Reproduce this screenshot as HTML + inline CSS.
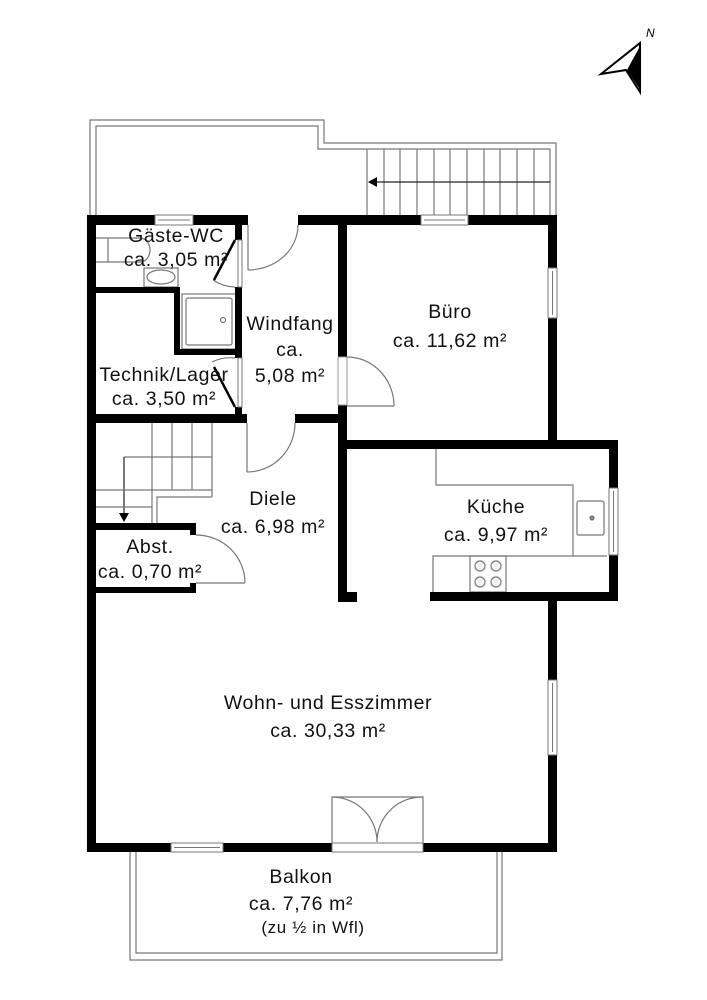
<!DOCTYPE html>
<html><head><meta charset="utf-8"><style>html,body{margin:0;padding:0;background:#fff}svg{display:block}</style></head>
<body>
<svg width="707" height="1000" viewBox="0 0 707 1000" xmlns="http://www.w3.org/2000/svg">
<rect width="707" height="1000" fill="#fff"/>
<g fill="none" stroke="#777" stroke-width="1.2">
<polyline points="90,215 90,120 324,120 324,143 556,143 556,215"/>
<polyline points="96,215 96,126 318,126 318,149 550,149 550,215"/>
<line x1="367" y1="149" x2="367" y2="215"/>
<line x1="384" y1="149" x2="384" y2="215"/><line x1="400" y1="149" x2="400" y2="215"/>
<line x1="417" y1="149" x2="417" y2="215"/><line x1="434" y1="149" x2="434" y2="215"/>
<line x1="450" y1="149" x2="450" y2="215"/><line x1="467" y1="149" x2="467" y2="215"/>
<line x1="484" y1="149" x2="484" y2="215"/><line x1="500" y1="149" x2="500" y2="215"/>
<line x1="517" y1="149" x2="517" y2="215"/><line x1="534" y1="149" x2="534" y2="215"/>
<line x1="372" y1="182" x2="550" y2="182" stroke="#222"/>
<polyline points="130,852 130,960 502,960 502,852"/>
<polyline points="136,852 136,953 497,953 497,852"/>
<line x1="152" y1="423" x2="152" y2="523"/><line x1="172" y1="423" x2="172" y2="490"/>
<line x1="192" y1="423" x2="192" y2="490"/><line x1="212" y1="423" x2="212" y2="497"/>
<line x1="124" y1="457" x2="212" y2="457"/>
<line x1="124" y1="457" x2="124" y2="517" stroke="#222"/>
<line x1="96" y1="490" x2="212" y2="490"/>
<line x1="96" y1="507" x2="152" y2="507"/>
<polyline points="157,523 157,497 212,497"/>
<line x1="248" y1="225" x2="248" y2="270"/><path d="M248,270 A50,45 0 0 0 298,225"/>
<line x1="247" y1="423" x2="247" y2="472"/><path d="M247,472 A48,49 0 0 0 295,423"/>
<line x1="347" y1="406" x2="394" y2="406"/><path d="M347,357 A47,49 0 0 1 394,406"/>
<line x1="196" y1="583" x2="245" y2="583"/><path d="M196,535 A49,48 0 0 1 245,583"/>
<path d="M235,287 A40,40 0 0 1 213,280"/><path d="M235,358 A40,40 0 0 0 212,362"/>
<polyline points="332,843 332,797 423,797 423,843"/>
<path d="M332,797 A45,45 0 0 1 377,842"/><path d="M423,797 A45,45 0 0 0 377,842"/>
<polyline points="96,238 140,238"/><polyline points="96,262 140,262"/>
<line x1="108" y1="238" x2="108" y2="262"/>
<path d="M140,238 A10,12 0 0 1 140,262"/>
<rect x="144" y="268" width="34" height="19"/><ellipse cx="161" cy="277" rx="14" ry="7"/>
<rect x="182" y="294" width="54" height="55"/><rect x="186" y="298" width="46" height="47" rx="2"/>
<circle cx="223" cy="320" r="2.5"/>
<polyline points="436,449 436,485 573,485 573,556 433,556 433,592"/>
<line x1="573" y1="556" x2="607" y2="556"/>
<rect x="470" y="556" width="36" height="36"/>
<circle cx="480" cy="566" r="5"/><circle cx="496" cy="566" r="5"/>
<circle cx="480" cy="582" r="5"/><circle cx="496" cy="582" r="5"/>
<rect x="577" y="501" width="27" height="34" rx="2"/>
<circle cx="592" cy="518" r="2" fill="#888"/>
</g>
<polygon points="368,182 377,177 377,187" fill="#000"/>
<polygon points="124,522 119,513 129,513" fill="#000"/>
<g fill="#000">
<rect x="87" y="215" width="68" height="10"/><rect x="193" y="215" width="55" height="10"/>
<rect x="298" y="215" width="123" height="10"/><rect x="468" y="215" width="89" height="10"/>
<rect x="87" y="215" width="9" height="637"/>
<rect x="87" y="843" width="84" height="9"/><rect x="223" y="843" width="109" height="9"/><rect x="423" y="843" width="134" height="9"/>
<rect x="548" y="215" width="9" height="53"/><rect x="548" y="318" width="9" height="131"/>
<rect x="548" y="440" width="70" height="9"/>
<rect x="609" y="440" width="9" height="48"/><rect x="609" y="555" width="9" height="46"/>
<rect x="430" y="592" width="188" height="9"/>
<rect x="548" y="592" width="9" height="88"/><rect x="548" y="755" width="9" height="97"/>
<rect x="338" y="215" width="9" height="142"/><rect x="338" y="405" width="9" height="197"/>
<rect x="338" y="592" width="19" height="10"/>
<rect x="347" y="440" width="201" height="9"/>
<rect x="87" y="414" width="160" height="9"/><rect x="295" y="414" width="52" height="9"/>
<rect x="96" y="287" width="84" height="6"/>
<rect x="174" y="287" width="6" height="68"/><rect x="174" y="349" width="68" height="6"/>
<rect x="235" y="225" width="7" height="15"/><rect x="235" y="287" width="7" height="71"/><rect x="235" y="407" width="7" height="8"/>
<rect x="87" y="523" width="109" height="7"/><rect x="190" y="523" width="6" height="12"/>
<rect x="190" y="583" width="6" height="10"/><rect x="87" y="587" width="109" height="6"/>
</g>
<line x1="235" y1="240" x2="214" y2="280" stroke="#000" stroke-width="2.5"/>
<line x1="235" y1="407" x2="214" y2="367" stroke="#000" stroke-width="2.5"/>
<g fill="#fff" stroke="#777" stroke-width="1">
<rect x="155" y="215" width="38" height="10"/><line x1="158" y1="220" x2="190" y2="220"/>
<rect x="421" y="215" width="47" height="10"/><line x1="424" y1="220" x2="465" y2="220"/>
<rect x="548" y="268" width="9" height="50"/><line x1="552.5" y1="271" x2="552.5" y2="315"/>
<rect x="609" y="488" width="9" height="67"/><line x1="613.5" y1="491" x2="613.5" y2="552"/>
<rect x="548" y="680" width="9" height="75"/><line x1="552.5" y1="683" x2="552.5" y2="752"/>
<rect x="171" y="843" width="52" height="9"/><line x1="174" y1="847.5" x2="220" y2="847.5"/>
<rect x="332" y="843" width="91" height="9"/>
<rect x="238" y="240" width="4" height="47"/><rect x="238" y="358" width="4" height="49"/>
<rect x="338" y="357" width="9" height="48" stroke="#999"/>
<rect x="247" y="414" width="48" height="9" stroke="none"/>
<rect x="248" y="215" width="50" height="10" stroke="none"/>
</g>
<polygon points="601,74 640,43 640,92 626,70" fill="#fff" stroke="#000" stroke-width="2" stroke-linejoin="miter"/>
<polygon points="639,48 627,70 639,88" fill="#000"/>
<text x="646" y="37" font-family="Liberation Sans, sans-serif" font-size="12" font-style="italic">N</text>
<g font-family="Liberation Sans, sans-serif" font-size="19.5" letter-spacing="0.6" text-anchor="middle" fill="#111">
<text x="176" y="242">Gäste-WC</text><text x="176" y="266">ca. 3,05 m²</text>
<text x="290" y="330">Windfang</text><text x="290" y="356">ca.</text><text x="290" y="382">5,08 m²</text>
<text x="450" y="318">Büro</text><text x="450" y="347">ca. 11,62 m²</text>
<text x="164" y="381">Technik/Lager</text><text x="164" y="405">ca. 3,50 m²</text>
<text x="273" y="505">Diele</text><text x="273" y="533">ca. 6,98 m²</text>
<text x="496" y="513">Küche</text><text x="496" y="541">ca. 9,97 m²</text>
<text x="150" y="553">Abst.</text><text x="150" y="578">ca. 0,70 m²</text>
<text x="328" y="709">Wohn- und Esszimmer</text><text x="328" y="737">ca. 30,33 m²</text>
<text x="301" y="883">Balkon</text><text x="301" y="910">ca. 7,76 m²</text>
<text x="313" y="933" font-size="17">(zu ½ in Wfl)</text>
</g>
</svg>
</body></html>
